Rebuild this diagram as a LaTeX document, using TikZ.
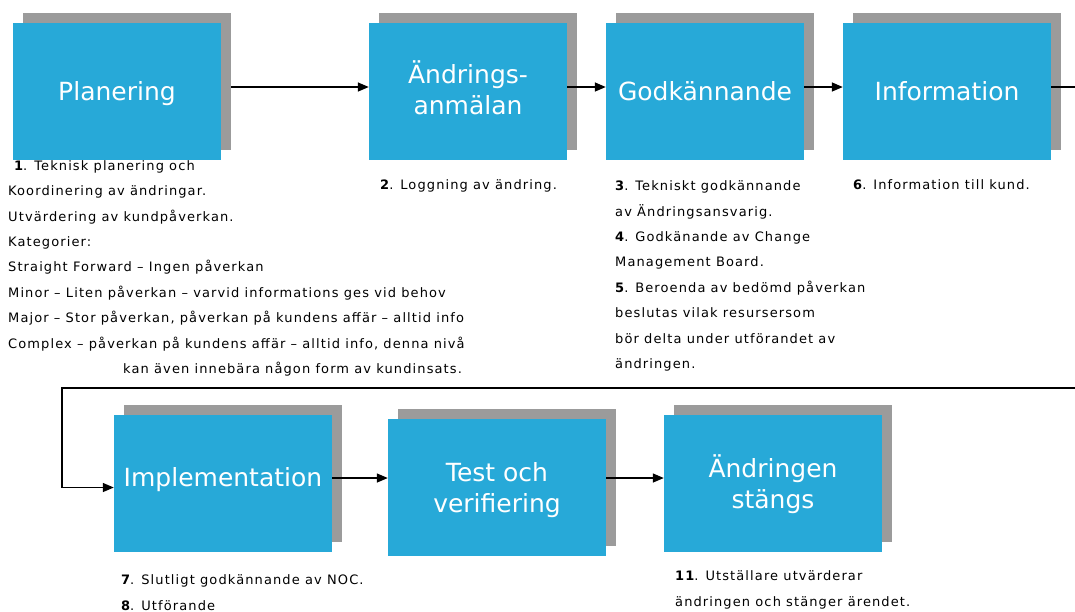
\documentclass[tikz,border=0pt]{standalone}
\usepackage{fontspec}
\setmainfont{DejaVu Sans}
\newfontfamily\notefont[LetterSpace=8.5]{DejaVu Sans}
\usetikzlibrary{arrows.meta,shadows}
\definecolor{boxblue}{RGB}{39,169,216}
\definecolor{shadowgray}{RGB}{155,155,155}
\tikzset{
  procbox/.style={rectangle, fill=boxblue, text=white, inner sep=0pt,
    minimum height=137pt, align=center,
    font=\fontsize{25}{31}\selectfont,
    general shadow={shadow xshift=10pt, shadow yshift=10pt, fill=shadowgray}},
  note/.style={anchor=base west, inner sep=0pt, align=left,
    font=\notefont\fontsize{13}{25.4}\selectfont},
  conn/.style={line width=1.4pt, -{Triangle[length=11pt,width=9pt]}}
}
\begin{document}
\begin{tikzpicture}[x=1pt,y=-1pt]
\useasboundingbox (0,0) rectangle (1075,611);
% row 1
\node[procbox, minimum width=208pt, text height=19pt, text depth=2pt] (plan) at (117,91.5) {Planering};
\node[procbox, minimum width=198pt, text height=50pt, text depth=5pt] (anm) at (468,91.5) {Ändrings-\\anmälan};
\node[procbox, minimum width=198pt, text height=19pt, text depth=2pt] (godk) at (705,91.5) {Godkännande};
\node[procbox, minimum width=208pt, text height=19pt, text depth=2pt] (info) at (947,91.5) {Information};
% row 2
\node[procbox, minimum width=218pt, text height=19pt, text depth=14pt] (impl) at (223,483.5) {Implementation};
\node[procbox, minimum width=218pt, text height=50pt, text depth=1pt] (test) at (497,487.5) {Test och\\verifiering};
\node[procbox, minimum width=218pt, text height=50pt, text depth=0pt] (stang) at (773,483.5) {Ändringen\\stängs};
% notes (anchored at the baseline of their last line)
\node[note] (n1) at (8,373.5) {\hspace*{6pt}\textbf{1}. Teknisk planering och\\
Koordinering av ändringar.\\
Utvärdering av kundpåverkan.\\
Kategorier:\\
Straight Forward – Ingen påverkan\\
Minor – Liten påverkan – varvid informations ges vid behov\\
Major – Stor påverkan, påverkan på kundens affär – alltid info\\
Complex – påverkan på kundens affär – alltid info, denna nivå\\
\hspace*{115pt}kan även innebära någon form av kundinsats.};
\node[note] (n2) at (380,189.5) {\textbf{2}. Loggning av ändring.};
\node[note] (n3) at (615,368.5) {\textbf{3}. Tekniskt godkännande\\
av Ändringsansvarig.\\
\textbf{4}. Godkänande av Change\\
Management Board.\\
\textbf{5}. Beroenda av bedömd påverkan\\
beslutas vilak resursersom\\
bör delta under utförandet av\\
ändringen.};
\node[note] (n6) at (853,189.5) {\textbf{6}. Information till kund.};
\node[note] (n7) at (121,610) {\textbf{7}. Slutligt godkännande av NOC.\\
\textbf{8}. Utförande};
\node[note] (n11) at (675,606) {\textbf{11}. Utställare utvärderar\\
ändringen och stänger ärendet.};
% connectors
\draw[conn] ([xshift=10pt,yshift=4.5pt]plan.east) -- ([yshift=4.5pt]anm.west);
\draw[conn] ([yshift=4.5pt]anm.east) -- ([yshift=4.5pt]godk.west);
\draw[conn] ([yshift=4.5pt]godk.east) -- ([yshift=4.5pt]info.west);
\coordinate (r1) at (1090,87);
\coordinate (r2) at (1090,388);
\coordinate (l1) at (62,388);
\draw[conn] ([yshift=4.5pt]info.east) -- (r1) -- (r2) -- (l1) |- ([yshift=-4pt]impl.west);
\draw[conn] ([yshift=5.5pt]impl.east) -- ([yshift=9.5pt]test.west);
\draw[conn] ([yshift=9.5pt]test.east) -- ([yshift=5.5pt]stang.west);
\end{tikzpicture}
\end{document}
